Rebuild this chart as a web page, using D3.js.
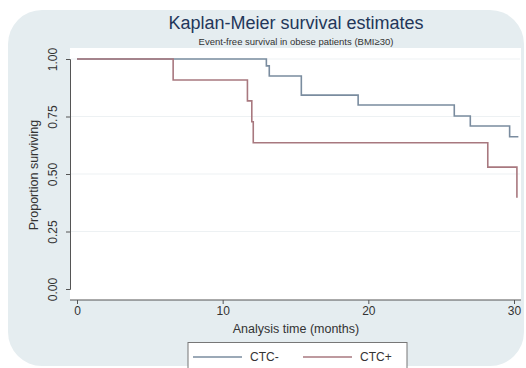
<!DOCTYPE html>
<html>
<head>
<meta charset="utf-8">
<script src="https://cdn.jsdelivr.net/npm/d3@7"></script>
<style>
  body { margin: 0; background: #fff; }
  svg { display: block; font-family: "Liberation Sans", Arial, sans-serif; }
</style>
</head>
<body>
<div class="chart"></div>
<script>
// step data (months, proportion surviving)
const ctcNegTime = [0, 13.0, 13.2, 15.4, 19.3, 25.9, 27.0, 29.7, 30.3];
const ctcNegSurv = [1.0, 0.97, 0.926, 0.843, 0.80, 0.752, 0.709, 0.662, 0.662];
const ctcPosTime = [0, 6.6, 11.7, 12.0, 12.1, 28.2, 30.2];
const ctcPosSurv = [1.0, 0.909, 0.818, 0.727, 0.636, 0.53, 0.397];
const xTicks = [0, 10, 20, 30];
const yTicks = [0, 0.25, 0.5, 0.75, 1];
const groups = ["CTC-", "CTC+"];
const colors = ["#7a8c9f", "#a8787f"];

const width = 526, height = 368;

const svg = d3.select(".chart").append("svg")
    .attr("width", width)
    .attr("height", height);

// outer panel
svg.append("rect")
    .attr("x", 8).attr("y", 10)
    .attr("width", 516).attr("height", 356)
    .attr("rx", 34)
    .attr("fill", "#e5edf0");

// plot region
svg.append("rect")
    .attr("x", 70).attr("y", 48)
    .attr("width", 451).attr("height", 252)
    .attr("fill", "#fff");

const x = d3.scaleLinear().domain([0, 30]).range([77, 514]);
const y = d3.scaleLinear().domain([0, 1]).range([289, 59]);

// gridlines
svg.append("g")
    .selectAll("line")
    .data(yTicks.filter(d => d > 0))
    .join("line")
    .attr("x1", 71).attr("x2", 520)
    .attr("y1", d => y(d)).attr("y2", d => y(d))
    .attr("stroke", "#edf1f3")
    .attr("stroke-width", 1.2);

// y axis
const yAxis = svg.append("g")
    .attr("transform", "translate(70,0)")
    .call(d3.axisLeft(y).tickValues(yTicks).tickFormat(d3.format(".2f")).tickSize(4).tickPadding(4));
yAxis.select(".domain").attr("stroke", "#555");
yAxis.selectAll(".tick line").attr("stroke", "#555");
yAxis.selectAll(".tick text")
    .attr("transform", "rotate(-90)")
    .attr("x", 0).attr("y", -17)
    .attr("dy", "0.35em")
    .attr("text-anchor", "middle")
    .attr("font-size", 12)
    .attr("fill", "#333");

// x axis
const xAxis = svg.append("g")
    .attr("transform", "translate(0,300)")
    .call(d3.axisBottom(x).tickValues(xTicks).tickSize(4).tickPadding(2));
xAxis.select(".domain").attr("d", "M70,0H521").attr("stroke", "#555");
xAxis.selectAll(".tick line").attr("stroke", "#555");
xAxis.selectAll(".tick text")
    .attr("font-size", 12)
    .attr("fill", "#333");

// axis titles
svg.append("text")
    .attr("transform", "translate(38,175) rotate(-90)")
    .attr("text-anchor", "middle")
    .attr("font-size", 12.5)
    .attr("fill", "#333")
    .text("Proportion surviving");

svg.append("text")
    .attr("x", 296).attr("y", 333)
    .attr("text-anchor", "middle")
    .attr("font-size", 12.5)
    .attr("fill", "#333")
    .text("Analysis time (months)");

// titles
svg.append("text")
    .attr("x", 296).attr("y", 29)
    .attr("text-anchor", "middle")
    .attr("font-size", 18)
    .attr("fill", "#23375a")
    .text("Kaplan-Meier survival estimates");

svg.append("text")
    .attr("x", 296).attr("y", 45)
    .attr("text-anchor", "middle")
    .attr("font-size", 9.5)
    .attr("fill", "#333")
    .text("Event-free survival in obese patients (BMI\u226530)");

// survival curves
const line = d3.line()
    .x(d => x(d[0]))
    .y(d => y(d[1]))
    .curve(d3.curveStepAfter);

const series = [
    d3.zip(ctcNegTime, ctcNegSurv),
    d3.zip(ctcPosTime, ctcPosSurv)
];

svg.append("g")
    .selectAll("path")
    .data(series)
    .join("path")
    .attr("d", line)
    .attr("fill", "none")
    .attr("stroke", (d, i) => colors[i])
    .attr("stroke-width", 1.6);

// legend
const legend = svg.append("g");
legend.append("rect")
    .attr("x", 188).attr("y", 342.5)
    .attr("width", 219).attr("height", 30)
    .attr("fill", "#fff")
    .attr("stroke", "#777");

const items = legend.selectAll("g")
    .data(groups)
    .join("g")
    .attr("transform", (d, i) => "translate(" + (193 + i * 110) + ",0)");
items.append("line")
    .attr("x1", 0).attr("x2", 49)
    .attr("y1", 357).attr("y2", 357)
    .attr("stroke", (d, i) => colors[i])
    .attr("stroke-width", 1.6);
items.append("text")
    .attr("x", 57).attr("y", 361)
    .attr("font-size", 12)
    .attr("fill", "#333")
    .text(d => d);
</script>
</body>
</html>
